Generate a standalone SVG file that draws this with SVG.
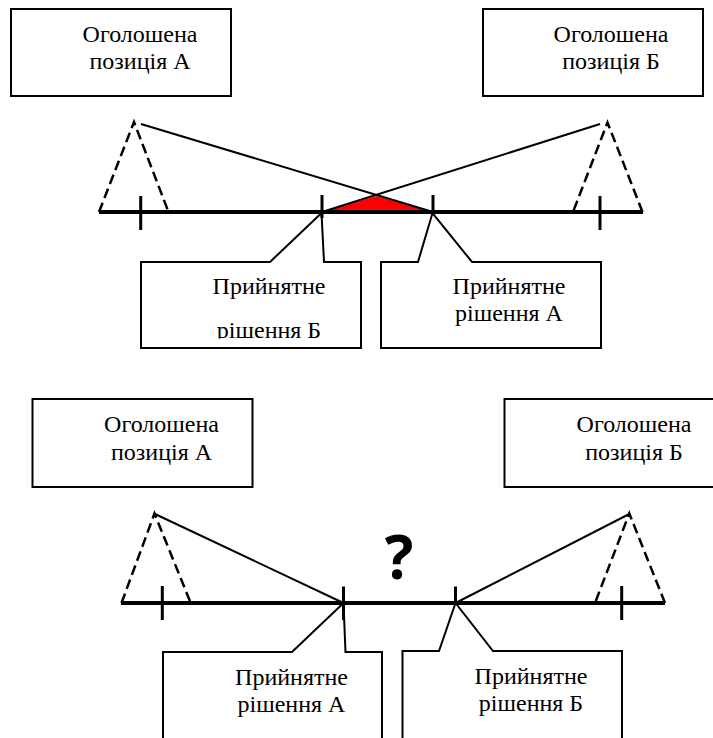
<svg xmlns="http://www.w3.org/2000/svg" width="713" height="738" viewBox="0 0 713 738">
  <style>
    .box { fill: #fff; stroke: #000; stroke-width: 2; }
    .call { fill: #fff; stroke: #000; stroke-width: 2; stroke-linejoin: miter; }
    .lbl { font-family: 'Liberation Serif', 'Times New Roman', serif; font-size: 24px; fill: #000; text-anchor: middle; }
    .axis { stroke: #000; stroke-width: 4; fill: none; }
    .tick { stroke: #000; stroke-width: 3; fill: none; }
    .dash { stroke: #000; stroke-width: 2.5; fill: none; stroke-dasharray: 10 5; }
    .ray { stroke: #000; stroke-width: 2; fill: none; }
    .q { font-family: 'Open Sans', 'DejaVu Sans', sans-serif; font-weight: bold; font-size: 60px; fill: #000; text-anchor: middle; }
  </style>
  <defs>
    <clipPath id="clipTopLeftLabel">
      <rect x="141" y="262" width="220" height="76.5"/>
    </clipPath>
  </defs>
  <rect width="713" height="738" fill="#fff"/>

  <!-- upper scheme: overlapping acceptable zone -->
  <g id="top-position-a">
    <rect class="box" x="11" y="9" width="220" height="87"/>
    <text class="lbl" x="140" y="42">Оголошена</text>
    <text class="lbl" x="140" y="69">позиція А</text>
  </g>
  <g id="top-position-b">
    <rect class="box" x="483" y="9" width="220" height="87"/>
    <text class="lbl" x="611" y="42">Оголошена</text>
    <text class="lbl" x="611" y="69">позиція Б</text>
  </g>
  <g id="top-zone">
    <polygon points="322,212 376.5,196 433,212" fill="#ff0000"/>
  </g>
  <g id="top-decision-b">
    <path class="call" d="M141,348 V262 H270 L321.5,213 L324,262 H361 V348 Z"/>
    <text class="lbl" x="269" y="294">Прийнятне</text>
    <text class="lbl" x="269" y="338" clip-path="url(#clipTopLeftLabel)">рішення Б</text>
  </g>
  <g id="top-decision-a">
    <path class="call" d="M381,348 V262 H418 L432.5,213 L472,262 H601 V348 Z"/>
    <text class="lbl" x="509" y="294">Прийнятне</text>
    <text class="lbl" x="509" y="321">рішення А</text>
  </g>
  <g id="top-connectors">
    <line class="axis" x1="99" y1="212" x2="643" y2="212"/>
    <line class="tick" x1="140.7" y1="196" x2="140.7" y2="230"/>
    <line class="tick" x1="600" y1="196" x2="600" y2="230"/>
    <line class="tick" x1="322" y1="195" x2="322" y2="218"/>
    <line class="tick" x1="433" y1="195" x2="433" y2="212"/>
    <polyline class="dash" points="99,212 134,122 168.5,212"/>
    <polyline class="dash" points="642.5,212 607.5,122.5 573,212"/>
    <line class="ray" x1="141" y1="124" x2="433" y2="212"/>
    <line class="ray" x1="600" y1="124" x2="322" y2="212"/>
  </g>

  <!-- lower scheme: no overlap -->
  <g id="bottom-position-a">
    <rect class="box" x="32.5" y="399" width="220" height="88"/>
    <text class="lbl" x="161.5" y="432">Оголошена</text>
    <text class="lbl" x="161.5" y="460">позиція А</text>
  </g>
  <g id="bottom-position-b">
    <rect class="box" x="504.5" y="399" width="220" height="88"/>
    <text class="lbl" x="634" y="432">Оголошена</text>
    <text class="lbl" x="634" y="460">позиція Б</text>
  </g>
  <g id="bottom-question">
    <text class="q" x="399" y="579">?</text>
  </g>
  <g id="bottom-decision-a">
    <path class="call" d="M163,742 V652 H292 L343.5,603 L345.5,652 H382 V742"/>
    <text class="lbl" x="291.5" y="685">Прийнятне</text>
    <text class="lbl" x="291.5" y="712">рішення А</text>
  </g>
  <g id="bottom-decision-b">
    <path class="call" d="M402.5,742 V651 H439 L455.5,603 L493,651 H622 V742"/>
    <text class="lbl" x="531" y="684">Прийнятне</text>
    <text class="lbl" x="531" y="711">рішення Б</text>
  </g>
  <g id="bottom-connectors">
    <line class="axis" x1="121" y1="603" x2="665" y2="603"/>
    <line class="tick" x1="162.3" y1="586" x2="162.3" y2="620"/>
    <line class="tick" x1="621.7" y1="586" x2="621.7" y2="620"/>
    <line class="tick" x1="343.5" y1="586.5" x2="343.5" y2="620"/>
    <line class="tick" x1="455.5" y1="586.5" x2="455.5" y2="603"/>
    <polyline class="dash" points="121.5,603 154.5,513.5 190.7,603"/>
    <polyline class="dash" points="665,603 629.3,513.5 595,603"/>
    <line class="ray" x1="155" y1="514" x2="343.5" y2="603"/>
    <line class="ray" x1="629.3" y1="514" x2="455.5" y2="603"/>
  </g>
</svg>
